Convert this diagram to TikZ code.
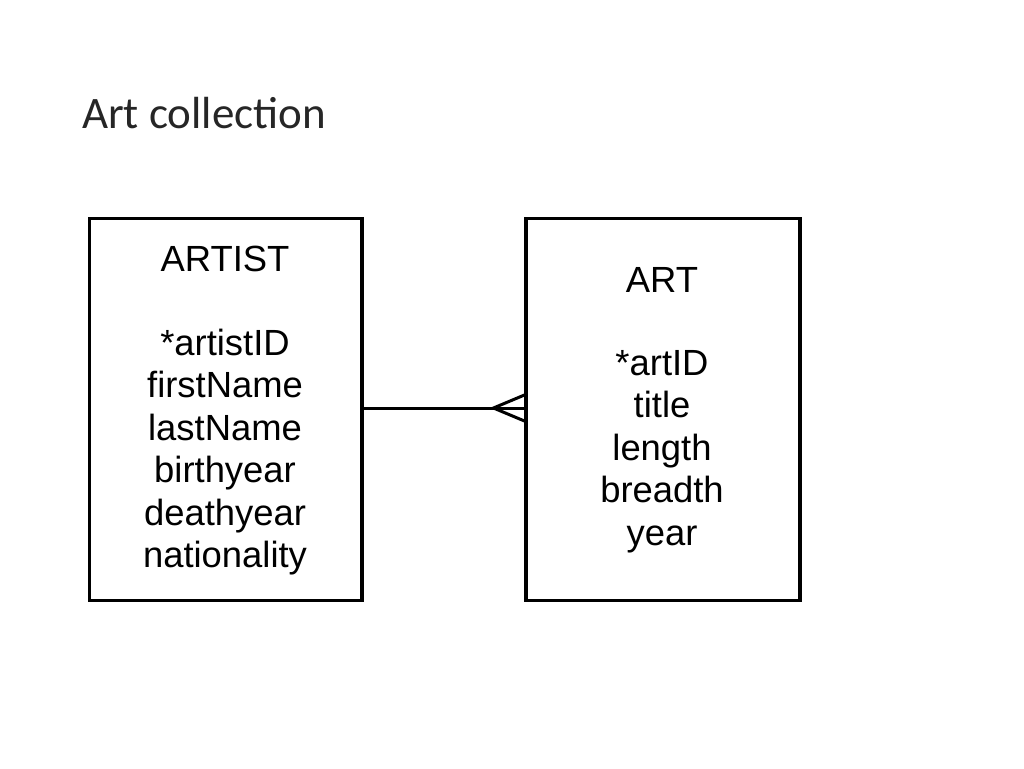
\documentclass[tikz,border=0pt]{standalone}
\usepackage{fontspec}
\setmainfont{Liberation Sans}
\newfontfamily\titlefont{Carlito}
\begin{document}
\begin{tikzpicture}[x=1pt,y=-1pt,
  entity/.style={draw=black,line width=3.1pt,rectangle,inner sep=0pt,minimum height=382pt},
  field/.style={anchor=base,inner sep=0pt,font=\fontsize{36.4}{42}\selectfont},
  link/.style={draw=black,line width=3pt}]
\useasboundingbox (0,0) rectangle (1024,768);
\node[anchor=base west,inner sep=0pt,font=\titlefont\fontsize{45}{54}\selectfont,text=black!85] (title) at (82,128) {Art collection};
\node[entity,minimum width=272.5pt] (artist) at (225.75,409.5) {};
\node[entity,minimum width=274pt] (art) at (663,409.5) {};
% ARTIST fields
\node[field] (artistHead) at (225,271.7) {ARTIST};
\foreach \t [count=\i from 0] in {*artistID,firstName,lastName,birthyear,deathyear,nationality}
  \node[field] (artistF\i) at (225,355+42.5*\i) {\t};
% ART fields
\node[field] (artHead) at (662,292.3) {ART};
\foreach \t [count=\i from 0] in {*artID,title,length,breadth,year}
  \node[field] (artF\i) at (662,375+42.5*\i) {\t};
% relationship
\coordinate (linkL) at ([yshift=1.5pt]artist.east);
\coordinate (linkR) at ([yshift=1.5pt]art.west);
\draw[link] (linkL) -- (linkR);
\draw[link,line join=miter] (linkR) ++(0,-13) -- ++(-31,13) -- ++(31,13);
\end{tikzpicture}
\end{document}
